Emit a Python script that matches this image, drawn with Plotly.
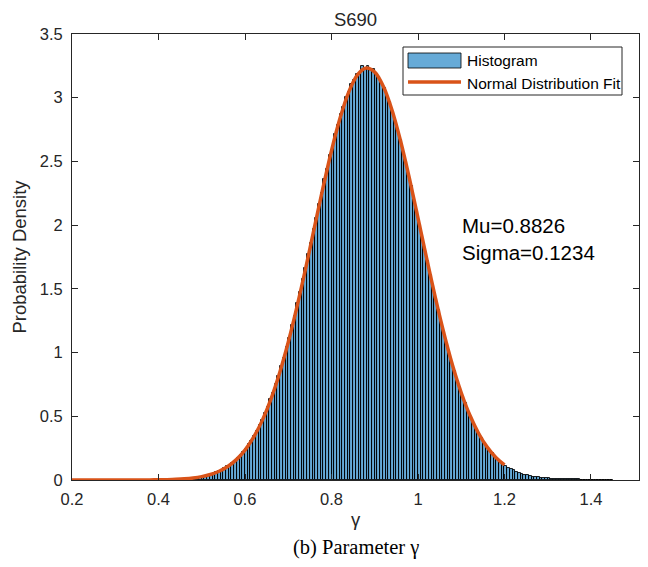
import numpy as np
import plotly.graph_objects as go

# ---------------- data ----------------
hist_start = 0.45          # left edge of first bin
bin_width = 0.00625        # bin width
hist_density = [
    0.008, 0.009, 0.011, 0.013, 0.015, 0.018, 0.021, 0.024, 0.029, 0.033,
    0.039, 0.045, 0.052, 0.061, 0.069, 0.081, 0.091, 0.106, 0.118, 0.137,
    0.153, 0.176, 0.195, 0.223, 0.247, 0.281, 0.309, 0.349, 0.383, 0.430,
    0.470, 0.525, 0.570, 0.634, 0.685, 0.757, 0.815, 0.894, 0.960, 1.047,
    1.118, 1.213, 1.290, 1.390, 1.472, 1.578, 1.662, 1.772, 1.858, 1.970,
    2.056, 2.168, 2.252, 2.362, 2.441, 2.547, 2.620, 2.718, 2.783, 2.871,
    2.926, 3.002, 3.045, 3.107, 3.136, 3.183, 3.196, 3.245, 3.226, 3.247,
    3.221, 3.226, 3.183, 3.165, 3.113, 3.080, 3.014, 2.967, 2.889, 2.829,
    2.740, 2.670, 2.572, 2.495, 2.389, 2.307, 2.197, 2.112, 2.000, 1.913,
    1.802, 1.715, 1.607, 1.522, 1.419, 1.337, 1.239, 1.163, 1.071, 1.001,
    0.917, 0.853, 0.776, 0.720, 0.651, 0.601, 0.540, 0.497, 0.443, 0.407,
    0.360, 0.330, 0.290, 0.264, 0.231, 0.210, 0.182, 0.165, 0.142, 0.128,
    0.110, 0.098, 0.085, 0.075, 0.064, 0.057, 0.048, 0.043, 0.036, 0.032,
    0.027, 0.024, 0.021, 0.018, 0.016, 0.013, 0.012, 0.010, 0.009, 0.008,
    0.007, 0.006, 0.006, 0.005, 0.005, 0.004, 0.004, 0.004, 0.003, 0.003,
    0.003, 0.003, 0.002, 0.002, 0.002, 0.002, 0.002, 0.001, 0.001, 0.001,
]

fit_x = [0.20, 0.22, 0.24, 0.26, 0.28, 0.30, 0.32, 0.34, 0.36, 0.38,
         0.40, 0.42, 0.44, 0.46, 0.48, 0.50, 0.52, 0.54, 0.56, 0.58,
         0.60, 0.62, 0.64, 0.66, 0.68, 0.70, 0.72, 0.74, 0.76, 0.78,
         0.80, 0.82, 0.84, 0.86, 0.88, 0.90, 0.92, 0.94, 0.96, 0.98,
         1.00, 1.02, 1.04, 1.06, 1.08, 1.10, 1.12, 1.14, 1.16, 1.18, 1.20]
fit_y = [0.0000, 0.0000, 0.0000, 0.0000, 0.0000, 0.0000, 0.0001, 0.0002, 0.0004, 0.0008,
         0.0015, 0.0029, 0.0052, 0.0092, 0.0158, 0.0265, 0.0432, 0.0686, 0.106, 0.160,
         0.235, 0.336, 0.468, 0.635, 0.840, 1.081, 1.356, 1.657, 1.974, 2.288,
         2.584, 2.842, 3.046, 3.179, 3.233, 3.201, 3.088, 2.902, 2.656, 2.368,
         2.056, 1.739, 1.433, 1.150, 0.899, 0.685, 0.508, 0.367, 0.258, 0.177, 0.118]

title_text = "S690"
stats_text = "Mu=0.8826<br>Sigma=0.1234"
x_ticks = [0.2, 0.4, 0.6, 0.8, 1.0, 1.2, 1.4]
x_tick_labels = ["0.2", "0.4", "0.6", "0.8", "1", "1.2", "1.4"]
y_ticks = [0, 0.5, 1, 1.5, 2, 2.5, 3, 3.5]
y_tick_labels = ["0", "0.5", "1", "1.5", "2", "2.5", "3", "3.5"]

# ---------------- styles ----------------
BAR_FILL = "rgba(0,114,189,0.6)"
FIT_COLOR = "#D95319"
AX_COLOR = "#262626"
SANS = "Liberation Sans, Arial, Helvetica, sans-serif"
SERIF = "Liberation Serif, Times New Roman, serif"

centers = hist_start + bin_width * (np.arange(len(hist_density)) + 0.5)

fig = go.Figure()
fig.add_trace(go.Bar(
    x=centers, y=hist_density, width=bin_width,
    marker=dict(color=BAR_FILL, line=dict(color="black", width=0.9)),
    showlegend=False, hoverinfo="skip",
))
fig.add_trace(go.Scatter(
    x=fit_x, y=fit_y, mode="lines",
    line=dict(color=FIT_COLOR, width=3.5, shape="spline", smoothing=0.8),
    showlegend=False,
))

W, H = 648, 567
L, R, T, B = 72, 9, 34, 87
pw, ph = W - L - R, H - T - B

def px(xp):
    return (xp - L) / pw

def py(yp):
    return (H - B - yp) / ph

# manual MATLAB-like legend
shapes = [
    dict(type="rect", xref="paper", yref="paper", x0=px(403), x1=px(622), y0=py(95), y1=py(47),
         line=dict(color=AX_COLOR, width=1), fillcolor="white", layer="above"),
    dict(type="rect", xref="paper", yref="paper", x0=px(408), x1=px(461), y0=py(68), y1=py(53),
         line=dict(color="black", width=0.8), fillcolor="rgb(102,170,215)", layer="above"),
    dict(type="line", xref="paper", yref="paper", x0=px(408), x1=px(461), y0=py(82), y1=py(82),
         line=dict(color=FIT_COLOR, width=3.5), layer="above"),
]
annotations = [
    dict(text="Histogram", xref="paper", yref="paper", x=px(465), y=py(61),
         xanchor="left", yanchor="middle", showarrow=False,
         font=dict(family=SANS, size=15.5, color="black")),
    dict(text="Normal Distribution Fit", xref="paper", yref="paper", x=px(465), y=py(83),
         xanchor="left", yanchor="middle", showarrow=False,
         font=dict(family=SANS, size=15.5, color="black")),
    dict(text=stats_text, xref="paper", yref="paper", x=px(460), y=py(239),
         xanchor="left", yanchor="middle", align="left", showarrow=False,
         font=dict(family=SANS, size=20.5, color="black")),
    dict(text="(b) Parameter γ", xref="paper", yref="paper", x=0.5, y=py(547),
         xanchor="center", yanchor="middle", showarrow=False,
         font=dict(family=SERIF, size=20.5, color="black")),
]

fig.update_layout(
    width=W, height=H,
    margin=dict(l=L, r=R, t=T, b=B, pad=0),
    paper_bgcolor="white", plot_bgcolor="white",
    bargap=0,
    title=dict(text=title_text, x=0.5, xref="paper", xanchor="center",
               y=1, yref="paper", yanchor="bottom", pad=dict(b=8),
               font=dict(family=SANS, size=18.5, color=AX_COLOR)),
    xaxis=dict(range=[0.2, 1.511], tickvals=x_ticks, ticktext=x_tick_labels,
               ticks="inside", ticklen=6, tickwidth=1, tickcolor=AX_COLOR,
               showline=True, linecolor=AX_COLOR, linewidth=1, mirror="ticks",
               showgrid=False, zeroline=False, ticklabelstandoff=4,
               tickfont=dict(family=SANS, size=16.5, color=AX_COLOR),
               title=dict(text="γ", standoff=6, font=dict(family=SANS, size=18.5, color=AX_COLOR))),
    yaxis=dict(range=[0, 3.5], tickvals=y_ticks, ticktext=y_tick_labels,
               ticks="inside", ticklen=6, tickwidth=1, tickcolor=AX_COLOR,
               showline=True, linecolor=AX_COLOR, linewidth=1, mirror="ticks",
               showgrid=False, zeroline=False, ticklabelstandoff=5,
               tickfont=dict(family=SANS, size=16.5, color=AX_COLOR),
               title=dict(text="Probability Density", standoff=8,
                          font=dict(family=SANS, size=18.5, color=AX_COLOR))),
    shapes=shapes, annotations=annotations,
    showlegend=False,
)

fig.write_html("out.html")
